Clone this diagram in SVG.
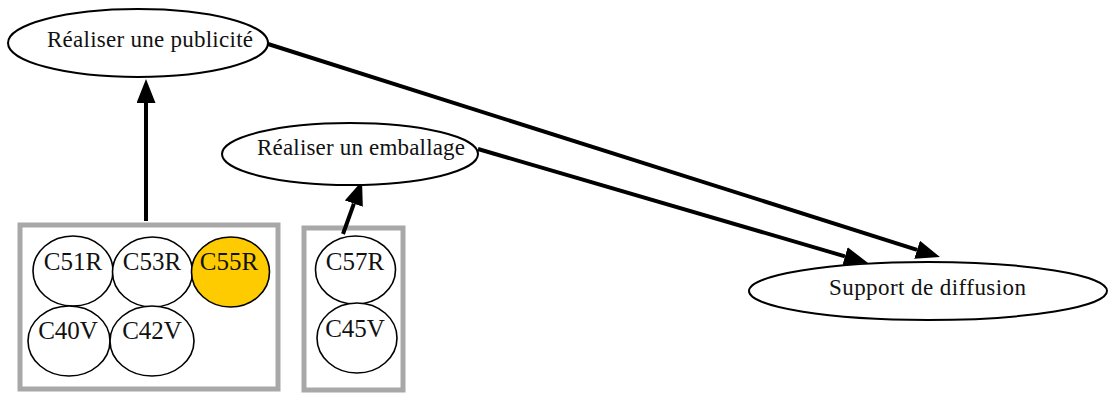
<svg xmlns="http://www.w3.org/2000/svg" width="1108" height="394" viewBox="0 0 1108 394">
<style>
.ell{fill:#fff;stroke:#000;stroke-width:2}
.cir{fill:#fff;stroke:#000;stroke-width:1.6}
.box{fill:#fff;stroke:#a8a8a8;stroke-width:5}
.lbl{font-family:"Liberation Serif","Times New Roman",serif;font-size:23px;fill:#111}
.clbl{font-family:"Liberation Serif","Times New Roman",serif;font-size:25px;fill:#111;text-anchor:middle}
.edge{stroke:#000;stroke-width:4;fill:none}
</style>
<defs>
<marker id="ah" viewBox="0 -9.5 24 19" refX="0" refY="0" markerWidth="24" markerHeight="19" markerUnits="userSpaceOnUse" orient="auto">
<path d="M0,-9.5 L24,0 L0,9.5 z" fill="#000"/>
</marker>
</defs>
<g id="cluster1"><rect class="box" x="20" y="225" width="258" height="164"/></g>
<g id="cluster2"><rect class="box" x="304" y="228" width="99" height="162"/></g>
<g id="connectors">
<line class="edge" x1="146" y1="221" x2="146" y2="103" marker-end="url(#ah)"/>
<line class="edge" x1="343" y1="234" x2="353.9" y2="203.6" marker-end="url(#ah)"/>
<line class="edge" x1="268" y1="44" x2="917.1" y2="249.8" marker-end="url(#ah)"/>
<line class="edge" x1="478" y1="149" x2="845" y2="256.3" marker-end="url(#ah)"/>
</g>
<g id="pub"><ellipse class="ell" cx="138" cy="43" rx="130" ry="34"/><text class="lbl" x="47" y="47" textLength="206" lengthAdjust="spacing">Réaliser une publicité</text></g>
<g id="emb"><ellipse class="ell" cx="350" cy="154" rx="128" ry="31"/><text class="lbl" x="257" y="155" textLength="208" lengthAdjust="spacing">Réaliser un emballage</text></g>
<g id="sup"><ellipse class="ell" cx="928" cy="291" rx="179" ry="29"/><text class="lbl" x="829" y="295" textLength="197" lengthAdjust="spacing">Support de diffusion</text></g>
<g id="C51R"><ellipse class="cir" cx="73" cy="271" rx="40" ry="35"/><text class="clbl" x="73" y="270">C51R</text></g>
<g id="C53R"><ellipse class="cir" cx="152.5" cy="272" rx="40" ry="35"/><text class="clbl" x="152" y="270">C53R</text></g>
<g id="C55R"><ellipse class="cir" cx="230.5" cy="272" rx="39" ry="35" style="fill:#fecb00"/><text class="clbl" x="229" y="270">C55R</text></g>
<g id="C40V"><ellipse class="cir" cx="69" cy="341" rx="41" ry="35"/><text class="clbl" x="68" y="339">C40V</text></g>
<g id="C42V"><ellipse class="cir" cx="152" cy="341" rx="42" ry="35"/><text class="clbl" x="152" y="339">C42V</text></g>
<g id="C57R"><ellipse class="cir" cx="355.5" cy="270" rx="40" ry="34"/><text class="clbl" x="355" y="270">C57R</text></g>
<g id="C45V"><ellipse class="cir" cx="357" cy="338" rx="40" ry="35"/><text class="clbl" x="355" y="337">C45V</text></g>
</svg>
